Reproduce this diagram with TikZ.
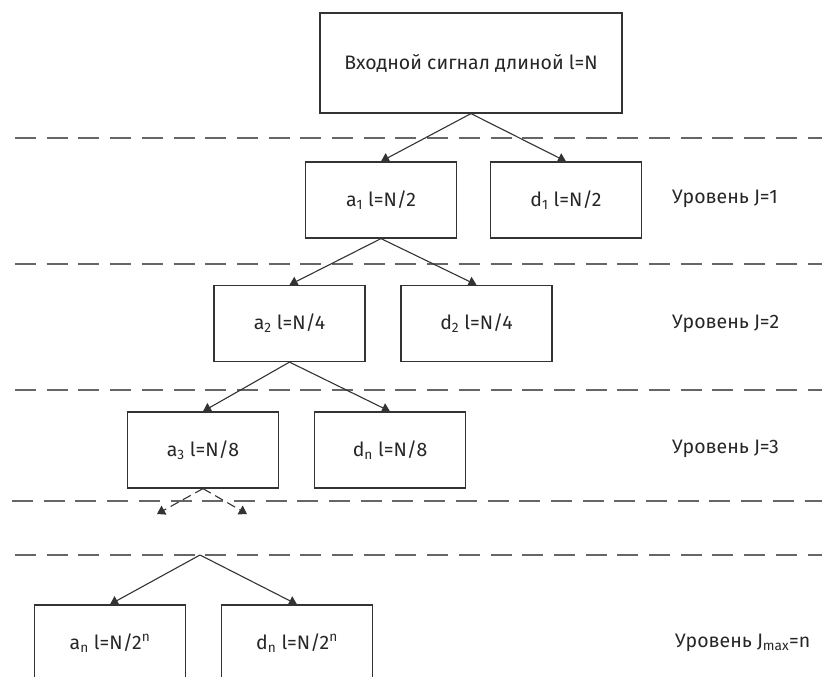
\documentclass[tikz,border=0pt]{standalone}
\usepackage{fontspec}
\setmainfont{Fira Sans}
\usetikzlibrary{arrows.meta}

\begin{document}
\begin{tikzpicture}[
  x=1pt, y=-1pt,
  font=\fontsize{19.5}{22}\selectfont,
  node distance=187pt,
  block/.style={rectangle, draw=black!80, line width=1.2pt, minimum width=151pt, minimum height=76pt, text=black!85},
  level/.style={anchor=west, inner sep=0pt, text=black!85},
  sep/.style={draw=black!60, line width=1.3pt, dash pattern=on 21pt off 10.7pt},
  line/.style={draw=black!80, line width=1.1pt, -{Triangle[length=8pt,width=10pt]}},
  dline/.style={line, dash pattern=on 9pt off 5pt}
]
\useasboundingbox (0,0) rectangle (822,677);
\clip (0,0) rectangle (822,677);

% dashed separators between levels
\foreach \y/\x in {138/15, 264/15, 390/15, 501/12, 555/15}
  \path [sep] (\x,\y) -- (822,\y);

\node [block, minimum width=302pt, minimum height=100pt] (input) at (471,63) {Входной сигнал длиной l=N};
\node [block] (a1) at (381,200) {a\textsubscript{1} l=N/2};
\node [block, right of=a1, node distance=185pt] (d1) {d\textsubscript{1} l=N/2};
\node [block] (a2) at (289.5,323.5) {a\textsubscript{2} l=N/4};
\node [block, right of=a2] (d2) {d\textsubscript{2} l=N/4};
\node [block] (a3) at (203,450) {a\textsubscript{3} l=N/8};
\node [block, right of=a3] (d3) {d\textsubscript{n} l=N/8};
\node [block] (an) at (110,643) {a\textsubscript{n} l=N/2\textsuperscript{n}};
\node [block, right of=an] (dn) {d\textsubscript{n} l=N/2\textsuperscript{n}};

% level captions
\node [level] (lv1) at (672,199) {Уровень J=1};
\node [level] (lv2) at (672,324) {Уровень J=2};
\node [level] (lv3) at (672,449) {Уровень J=3};
\node [level] (lvn) at (675,643) {Уровень J\textsubscript{max}=n};

\coordinate (skipl) at (157,514);
\coordinate (skipr) at (247,514);
\coordinate (root) at (200,555);

\path [line] (input.south) -- (a1.north);
\path [line] (input.south) -- (d1.north);
\path [line] (a1.south) -- (a2.north);
\path [line] (a1.south) -- (d2.north);
\path [line] (a2.south) -- (a3.north);
\path [line] (a2.south) -- (d3.north);
\path [dline] (a3.south) -- (skipl);
\path [dline] (a3.south) -- (skipr);
\path [line] (root) -- (an.north);
\path [line] (root) -- (dn.north);

\end{tikzpicture}
\end{document}
